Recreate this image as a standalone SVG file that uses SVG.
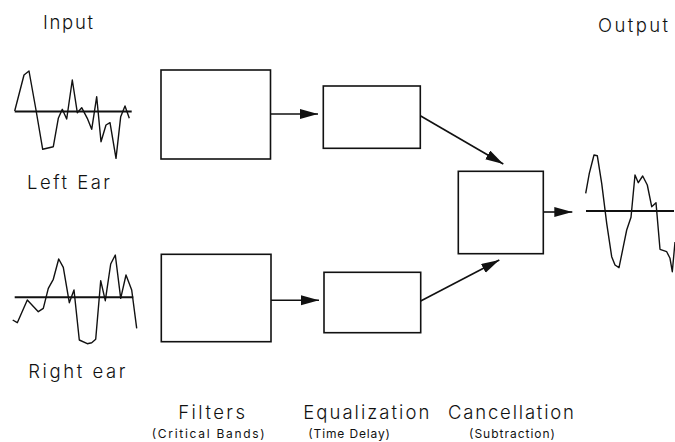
<svg xmlns="http://www.w3.org/2000/svg" width="675" height="442" viewBox="0 0 675 442">
<defs>
<style>
.box{fill:#fff;stroke:#111;stroke-width:1.6}
.wave{fill:none;stroke:#111;stroke-width:1.4;stroke-linejoin:round}
.axis{stroke:#111;stroke-width:2}
.conn{stroke:#111;stroke-width:1.6;fill:none}
.lbl{font-family:Inter,"Liberation Sans",Arial,sans-serif;font-weight:300;font-size:18.5px;fill:#111}
.sub{font-family:Inter,"Liberation Sans",Arial,sans-serif;font-weight:400;font-size:12px;fill:#111}
</style>
<marker id="ah" markerUnits="userSpaceOnUse" markerWidth="19" markerHeight="11" refX="18" refY="5" orient="auto">
<path d="M0,0 L18,5 L0,10 z" fill="#111"/>
</marker>
</defs>
<rect width="675" height="442" fill="#fff"/>

<g id="input-label"><text class="lbl" x="43" y="29" textLength="50" lengthAdjust="spacing">Input</text></g>
<g id="output-label"><text class="lbl" x="598" y="31.5" textLength="70" lengthAdjust="spacing">Output</text></g>

<g id="left-wave">
<line class="axis" x1="14.7" y1="111.5" x2="131.7" y2="111.5"/>
<polyline class="wave" points="14.7,111 24,75 29,71 36,110 42.7,149.3 53.3,146.7 58.3,118.3 62.3,109.3 66.7,119 72.3,80 77.3,112.7 81.7,107.7 87.3,118.3 91.7,129.3 96.7,96.7 101,141.7 106,125 110,122.7 116,158.3 120.7,116.7 125,106 129.3,118.3"/>
<text class="lbl" x="27" y="189.3" textLength="83" lengthAdjust="spacing">Left Ear</text>
</g>

<g id="right-wave">
<line class="axis" x1="14.7" y1="297.3" x2="133.3" y2="297.3"/>
<polyline class="wave" points="12.7,320 17.3,322.7 27.3,300 38.3,311.7 43.3,308.3 48.3,288.3 53.3,279.3 58.7,259 63.3,267.3 69.3,302.7 74,290 79.3,340 87.3,343.7 91.7,342.7 95.7,339.3 100.7,280.7 105.3,300.7 110.7,264 115.3,255 120.7,298.3 126,275 131.7,290 136.7,328.3"/>
<text class="lbl" x="28.3" y="378.3" textLength="97" lengthAdjust="spacing">Right ear</text>
</g>

<g id="filter-left"><rect class="box" x="161" y="70" width="109.5" height="89"/></g>
<g id="filter-right"><rect class="box" x="161.3" y="254.3" width="109.7" height="87.4"/></g>
<g id="eq-left"><rect class="box" x="323.3" y="86" width="97" height="62.3"/></g>
<g id="eq-right"><rect class="box" x="324" y="272.3" width="96.7" height="60.4"/></g>
<g id="cancel"><rect class="box" x="458.3" y="171.3" width="85" height="82.4"/></g>

<g id="output-wave">
<line class="axis" x1="586" y1="211" x2="674" y2="211"/>
<polyline class="wave" points="585.7,193.3 589.3,173.3 594,155 597.3,155.7 601.7,183.3 606.7,223.3 611.7,256.7 615,265 619,267.7 623.3,246.7 626.7,230 631,217.3 635,175 638.3,182.7 642.7,176 647.3,185 651.7,206.7 656,202.7 660,249.3 666.7,251.7 670,258.3 672.3,271.7 675,242"/>
</g>

<g id="connectors">
<line class="conn" x1="270.5" y1="114" x2="318" y2="114" marker-end="url(#ah)"/>
<line class="conn" x1="271" y1="300.3" x2="319" y2="300.3" marker-end="url(#ah)"/>
<line class="conn" x1="420.3" y1="115.7" x2="503.3" y2="164" marker-end="url(#ah)"/>
<line class="conn" x1="420.7" y1="301" x2="499.3" y2="260" marker-end="url(#ah)"/>
<line class="conn" x1="543.3" y1="212" x2="572.3" y2="212" marker-end="url(#ah)"/>
</g>

<g id="stage-labels">
<text class="lbl" x="178.3" y="419.3" textLength="66.7" lengthAdjust="spacing">Filters</text>
<text class="sub" x="151.7" y="438.3" textLength="113" lengthAdjust="spacing">(Critical Bands)</text>
<text class="lbl" x="303.3" y="419.3" textLength="126" lengthAdjust="spacing">Equalization</text>
<text class="sub" x="308.3" y="438.3" textLength="81.7" lengthAdjust="spacing">(Time Delay)</text>
<text class="lbl" x="448" y="418.8" textLength="126" lengthAdjust="spacing">Cancellation</text>
<text class="sub" x="469" y="437.8" textLength="86" lengthAdjust="spacing">(Subtraction)</text>
</g>
</svg>
